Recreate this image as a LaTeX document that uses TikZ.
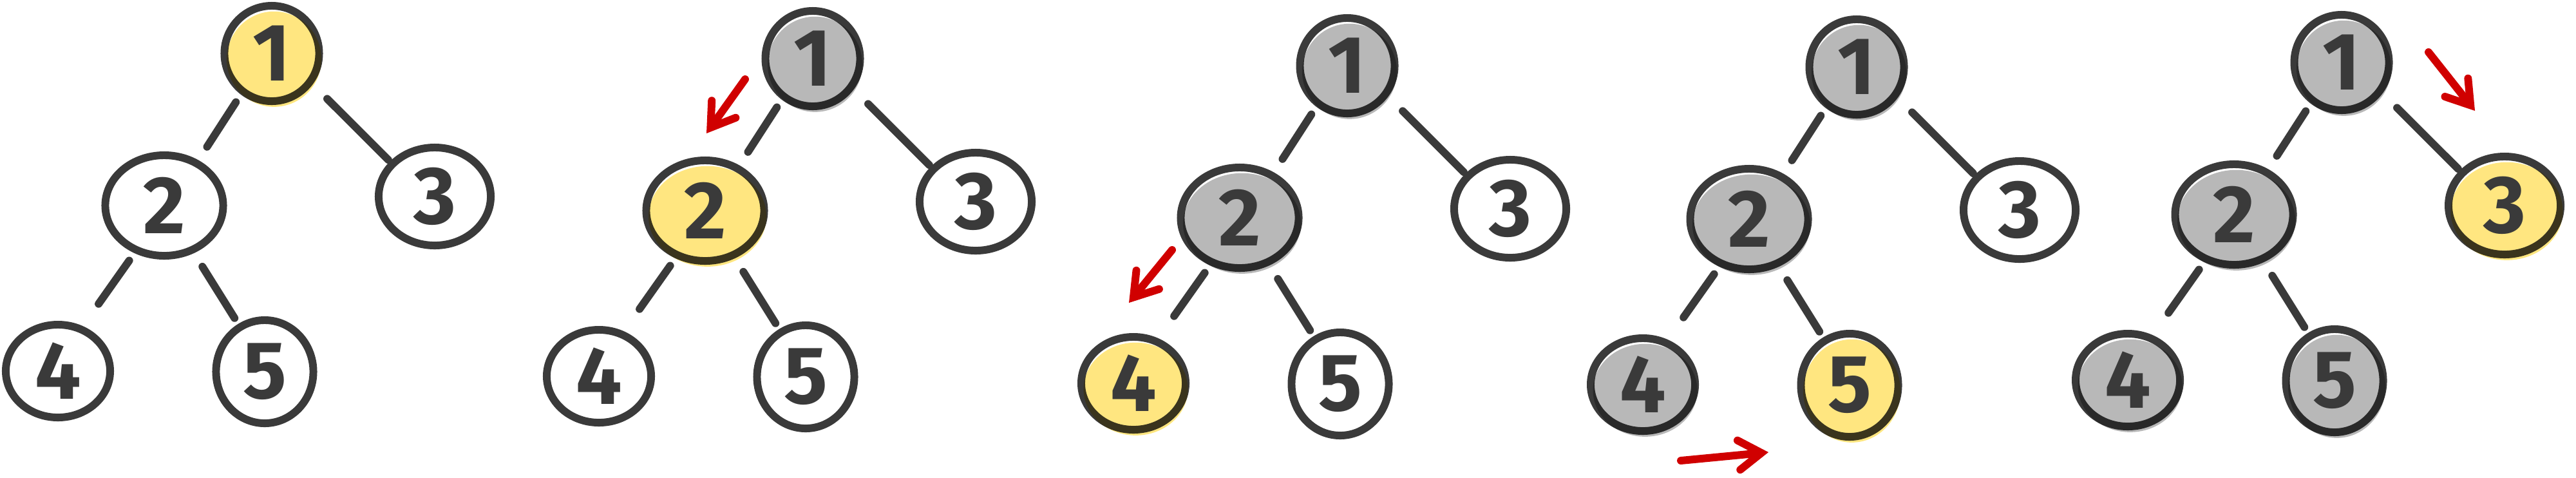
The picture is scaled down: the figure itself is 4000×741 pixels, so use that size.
\documentclass[tikz,border=0pt]{standalone}
\usepackage{fontspec}
\setmainfont{Fira Sans}
\usetikzlibrary{shapes.geometric,arrows.meta}

\definecolor{ink}{HTML}{3A3A3A}
\definecolor{hlyellow}{HTML}{FFE680}
\definecolor{seengray}{HTML}{B8B8B8}
\definecolor{trail}{HTML}{D00000}

\tikzset{
  vtx/.style={ellipse, draw=ink, line width=3.4pt, inner sep=0pt, text=ink,
    font=\fontsize{36}{36}\selectfont\bfseries},
  wash/.style={draw=none, fill=#1, blend mode=multiply,
    transform canvas={shift={(1pt,-2.5pt)}}},
  cur/.style={postaction={wash=hlyellow}},
  seen/.style={postaction={wash=seengray}},
  fresh/.style={},
  branch/.style={draw=ink, line width=3.4pt, line cap=round},
  hint/.style={draw=trail, line width=3.4pt, line cap=round,
    -{Straight Barb[length=10pt,width=13pt,line cap=round]}},
}

\begin{document}
\begin{tikzpicture}[x=0.01cm, y=-0.01cm]
\useasboundingbox (0,0) rectangle (4000,741);
% one tree per step of the walk
\foreach \t/\dx/\dy/\sa/\sb/\sc/\sd/\se in {
    1/0/0/cur/fresh/fresh/fresh/fresh,
    2/840/8/seen/cur/fresh/fresh/fresh,
    3/1670/19/seen/seen/fresh/cur/fresh,
    4/2461/21/seen/seen/fresh/seen/cur,
    5/3214/14/seen/seen/cur/seen/seen%
} {
    \begin{scope}[shift={(\dx,\dy)}]
        \node[vtx, \sa, minimum width=1.47cm, minimum height=1.48cm] (t\t-1) at (422,83) {1};
        \node[vtx, \sb, minimum width=1.83cm, minimum height=1.56cm] (t\t-2) at (255,319) {2};
        \node[vtx, \sc, minimum width=1.74cm, minimum height=1.52cm] (t\t-3) at (675,305) {3};
        \node[vtx, \sd, minimum width=1.62cm, minimum height=1.44cm] (t\t-4) at (90,576) {4};
        \node[vtx, \se, minimum width=1.51cm, minimum height=1.60cm] (t\t-5) at (411,577) {5};

        \draw[branch, shorten <=4pt, shorten >=7pt] (t\t-1.233) -- (t\t-2.53);
        \draw[branch, shorten <=9pt, shorten >=1pt] (t\t-1.323) -- (t\t-3.142);
        \draw[branch, shorten <=4pt, shorten >=12pt] (t\t-2.238) -- (t\t-4.61);
        \draw[branch, shorten <=7pt, shorten >=3pt] (t\t-2.302) -- (t\t-5.119);
    \end{scope}
}

% red hints of the next move
\coordinate (h2a) at (1157,123); \coordinate (h2b) at (1097,207);
\coordinate (h3a) at (1820,388); \coordinate (h3b) at (1753,470);
\coordinate (h4a) at (2610,715); \coordinate (h4b) at (2746,702);
\coordinate (h5a) at (3771,81);  \coordinate (h5b) at (3843,172);
\draw[hint] (h2a) -- (h2b);
\draw[hint] (h3a) -- (h3b);
\draw[hint] (h4a) -- (h4b);
\draw[hint] (h5a) -- (h5b);
\end{tikzpicture}
\end{document}
